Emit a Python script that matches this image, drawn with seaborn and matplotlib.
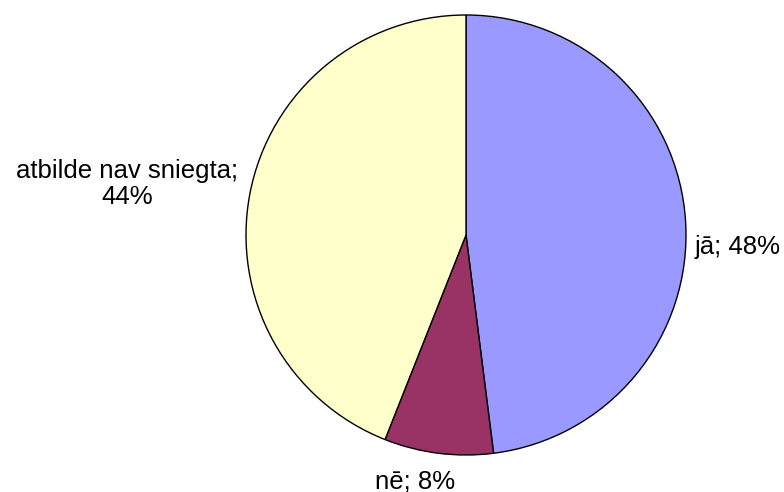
import matplotlib
matplotlib.use("Agg")
import matplotlib.pyplot as plt
import seaborn as sns

# data
labels = ["jā", "nē", "atbilde nav sniegta"]
shares = [48, 8, 44]
colors = ["#9999FF", "#993366", "#FFFFCC"]

sns.set_style("white")
plt.rcParams["font.family"] = ["Liberation Sans", "DejaVu Sans"]

fig = plt.figure(figsize=(7.84, 4.92), dpi=100)
# pie centre ~ (466, 235) px, radius ~220 px
ax = fig.add_axes([(466 - 220) / 784, (492 - 455) / 492, 440 / 784, 440 / 492])

wedges, _ = ax.pie(shares, colors=colors, startangle=90, counterclock=False,
                   wedgeprops=dict(edgecolor="black", linewidth=1.0))
ax.set_xlim(-1, 1)
ax.set_ylim(-1, 1)
ax.axis("off")

# label positions (in radius units), placed like the original
label_pos = [(1.04, -0.055, "left"), (-0.23, -1.12, "center"), (-1.54, 0.23, "center")]
texts = [f"{labels[0]}; {shares[0]}%", f"{labels[1]}; {shares[1]}%",
         f"{labels[2]};\n{shares[2]}%"]
for (x, y, ha), t in zip(label_pos, texts):
    ax.text(x, y, t, ha=ha, va="center", fontsize=18.5, color="black",
            clip_on=False, linespacing=1.1)

fig.savefig("out.png", dpi=100)
